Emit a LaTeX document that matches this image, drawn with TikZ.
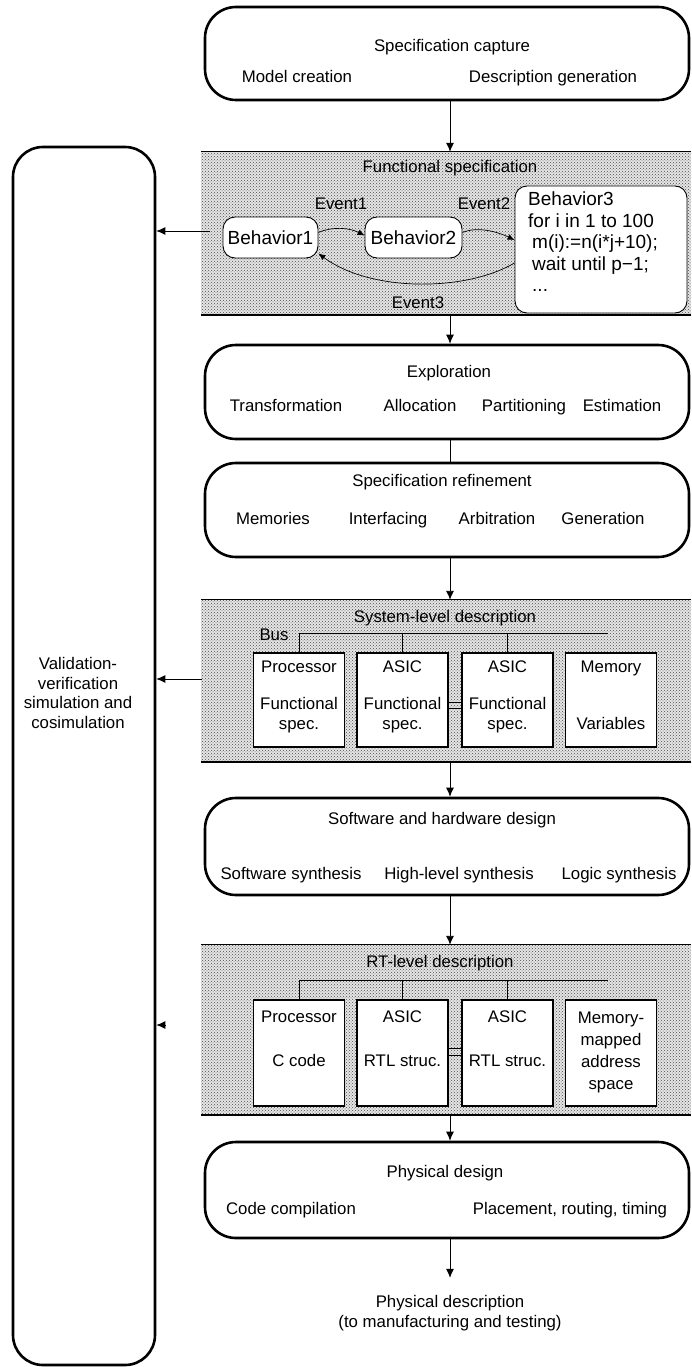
\documentclass[tikz,border=0pt]{standalone}
\usepackage{fontspec}
\setmainfont{Liberation Sans}
\usetikzlibrary{arrows.meta,patterns}
\begin{document}
\begin{tikzpicture}[x=1pt,y=-1pt,font=\fontsize{16.8}{19.5}\selectfont,
    phase/.style={draw,rounded corners=31pt,line width=2.6pt,minimum width=484pt,inner sep=0pt},
    area/.style={preaction={fill=black!10},pattern=crosshatch dots,pattern color=black!70,minimum width=490pt,inner sep=0pt},
    beh/.style={draw,fill=white,rounded corners=12pt,line width=0.9pt,minimum height=41pt,inner sep=0pt,font=\fontsize{19}{21.5}\selectfont},
    unit/.style={draw,fill=white,line width=1.1pt,minimum width=91pt,inner sep=0pt},
    lbl/.style={text height=12pt,text depth=3.5pt},
    arr/.style={-{Latex[length=9pt,width=8pt]},line width=0.9pt},
    evarr/.style={-{Latex[length=7pt,width=6pt]},line width=0.7pt},
    wire/.style={line width=0.8pt}]
    \useasboundingbox (0,0) rectangle (691,1367);%
    \coordinate (axis) at (450,0);%
    \node[draw,rounded corners=30pt,line width=2.6pt,minimum width=142pt,minimum height=1218pt] (valid) at (84,756) {};%
    \node[align=center] (validtxt) at (78,693) {Validation-\\verification\\simulation and\\cosimulation};%

    \node[phase,minimum height=93pt] (capture) at (447,53.5) {};%
    \node[lbl] (capturetitle) at (452,47) {Specification capture};%
    \node[lbl] (model) at (297,78) {Model creation};%
    \node[lbl] (descgen) at (553,78) {Description generation};%

    \node[area,minimum height=163pt] (funcarea) at (446,233.5) {};%
    \draw[wire] (funcarea.north west) to (funcarea.north east);%
    \draw[line width=1.6pt] (funcarea.south west) to (funcarea.south east);%
    \node[lbl] (functitle) at (450,168) {Functional specification};%
    \node[beh,minimum width=95pt] (beh1) at (270.5,237.5) {Behavior1};%
    \node[beh,minimum width=97pt] (beh2) at (413.5,237.5) {Behavior2};%
    \node[beh,minimum width=172pt,minimum height=127pt] (beh3) at (601,249.5) {};%
    \node[anchor=north west,align=left,font=\fontsize{19}{21.5}\selectfont,inner sep=3pt] (beh3txt) at (525,189) {Behavior3\\for i in 1 to 100\\\hspace*{4pt}m(i):=n(i*j+10);\\\hspace*{4pt}wait until p−1;\\\hspace*{4pt}...};%
    \node[lbl] (ev1) at (341,205) {Event1};%
    \node[lbl] (ev2) at (484,205) {Event2};%
    \node[lbl] (ev3) at (418,304) {Event3};%
    \draw[evarr] ([yshift=5pt]beh1.east) .. controls (333,226) and (350,228) .. ([yshift=2pt]beh2.west);%
    \draw[evarr] ([yshift=5pt]beh2.east) .. controls (478,226) and (498,232) .. ([yshift=9.5pt]beh3.west);%
    \draw[evarr] ([yshift=-13.5pt]beh3.west) .. controls (465,292) and (370,292) .. ([yshift=-16pt]beh1.east);%

    \node[phase,minimum height=94pt] (explore) at (447,392) {};%
    \node[lbl] (exptitle) at (449,373) {Exploration};%
    \node[lbl] (transf) at (286,407) {Transformation};%
    \node[lbl] (alloc) at (420,407) {Allocation};%
    \node[lbl] (partit) at (524,407) {Partitioning};%
    \node[lbl] (estim) at (622,407) {Estimation};%

    \node[phase,minimum height=94pt] (refine) at (447,510) {};%
    \node[lbl] (reftitle) at (442,482) {Specification refinement};%
    \node[lbl] (memories) at (273,520) {Memories};%
    \node[lbl] (interf) at (388,520) {Interfacing};%
    \node[lbl] (arbit) at (497,520) {Arbitration};%
    \node[lbl] (gener) at (603,520) {Generation};%

    \node[area,minimum height=162pt] (sysarea) at (446,681) {};%
    \draw[wire] (sysarea.north west) to (sysarea.north east);%
    \draw[line width=1.6pt] (sysarea.south west) to (sysarea.south east);%
    \node[lbl] (systitle) at (445,618) {System-level description};%
    \node[lbl] (bus) at (274,636) {Bus};%
    \node[unit,minimum height=94pt] (sproc) at (299,700) {};%
    \node[unit,minimum height=94pt] (sasic1) at (402.5,700) {};%
    \node[unit,minimum height=94pt] (sasic2) at (507.5,700) {};%
    \node[unit,minimum height=94pt] (smem) at (611,700) {};%
    \coordinate (sbus) at (608,633);%
    \draw[wire] (sproc.north) |- (sbus);%
    \draw[wire] (sasic1.north) to (sasic1.north |- sbus);%
    \draw[wire] (sasic2.north) to (sasic2.north |- sbus);%
    \draw[wire] ([yshift=-2pt]sasic1.east) to ([yshift=-2pt]sasic2.west);%
    \draw[wire] ([yshift=-8pt]sasic1.east) to ([yshift=-8pt]sasic2.west);%
    \node[lbl] (sproct) at (299,668) {Processor};%
    \node[align=center] (sprocs) at (299,715) {Functional\\spec.};%
    \node[lbl] (sasic1t) at (402.5,668) {ASIC};%
    \node[align=center] (sasic1s) at (402.5,715) {Functional\\spec.};%
    \node[lbl] (sasic2t) at (507.5,668) {ASIC};%
    \node[align=center] (sasic2s) at (507.5,715) {Functional\\spec.};%
    \node[lbl] (smemt) at (611,668) {Memory};%
    \node[lbl] (smemv) at (611,725) {Variables};%

    \node[phase,minimum height=97pt] (swhw) at (447,846.5) {};%
    \node[lbl] (swhwtitle) at (442,820) {Software and hardware design};%
    \node[lbl] (swsyn) at (291,875) {Software synthesis};%
    \node[lbl] (hlsyn) at (459,875) {High-level synthesis};%
    \node[lbl] (lgsyn) at (619,875) {Logic synthesis};%

    \node[area,minimum height=170pt] (rtarea) at (446,1030) {};%
    \draw[wire] (rtarea.north west) to (rtarea.north east);%
    \draw[line width=1.6pt] (rtarea.south west) to (rtarea.south east);%
    \node[lbl] (rttitle) at (440,963) {RT-level description};%
    \node[unit,minimum height=106pt] (rproc) at (299,1053) {};%
    \node[unit,minimum height=106pt] (rasic1) at (402.5,1053) {};%
    \node[unit,minimum height=106pt] (rasic2) at (507.5,1053) {};%
    \node[unit,minimum height=106pt] (rmem) at (611,1053) {};%
    \coordinate (rbus) at (608,980);%
    \draw[wire] (rproc.north) |- (rbus);%
    \draw[wire] (rasic1.north) to (rasic1.north |- rbus);%
    \draw[wire] (rasic2.north) to (rasic2.north |- rbus);%
    \draw[wire] ([yshift=5pt]rasic1.east) to ([yshift=5pt]rasic2.west);%
    \draw[wire] ([yshift=-2pt]rasic1.east) to ([yshift=-2pt]rasic2.west);%
    \node[lbl] (rproct) at (299,1018) {Processor};%
    \node[lbl] (rprocc) at (299,1062) {C code};%
    \node[lbl] (rasic1t) at (402.5,1018) {ASIC};%
    \node[lbl] (rasic1r) at (402.5,1062) {RTL struc.};%
    \node[lbl] (rasic2t) at (507.5,1018) {ASIC};%
    \node[lbl] (rasic2r) at (507.5,1062) {RTL struc.};%
    \node[align=center,font=\fontsize{16.8}{22}\selectfont] (rmemt) at (611,1052) {Memory-\\mapped\\address\\space};%

    \node[phase,minimum height=96pt] (phys) at (447,1190) {};%
    \node[lbl] (phystitle) at (445,1173) {Physical design};%
    \node[lbl] (codecomp) at (291,1210) {Code compilation};%
    \node[lbl] (placement) at (570,1210) {Placement, routing, timing};%
    \node[align=center] (physdesc) at (450,1313) {Physical description\\(to manufacturing and testing)};%

    \draw[arr] (capture.south -| axis) to (funcarea.north -| axis);%
    \draw[arr] (funcarea.south -| axis) to (explore.north -| axis);%
    \draw[wire] (explore.south -| axis) to (refine.north -| axis);%
    \draw[arr] (refine.south -| axis) to (sysarea.north -| axis);%
    \draw[arr] (sysarea.south -| axis) to (swhw.north -| axis);%
    \draw[arr] (swhw.south -| axis) to (rtarea.north -| axis);%
    \draw[arr] (rtarea.south -| axis) to (phys.north -| axis);%
    \draw[arr] (phys.south -| axis) to ([yshift=14pt]physdesc.north);%

    \coordinate (fsout) at (210,231);%
    \draw[arr] (fsout) to (valid.east |- fsout);%
    \coordinate (slout) at (202,679);%
    \draw[arr] (slout) to (valid.east |- slout);%
    \coordinate (rtout) at (165,1025);%
    \draw[arr] (rtout) to (valid.east |- rtout);%
\end{tikzpicture}
\end{document}
